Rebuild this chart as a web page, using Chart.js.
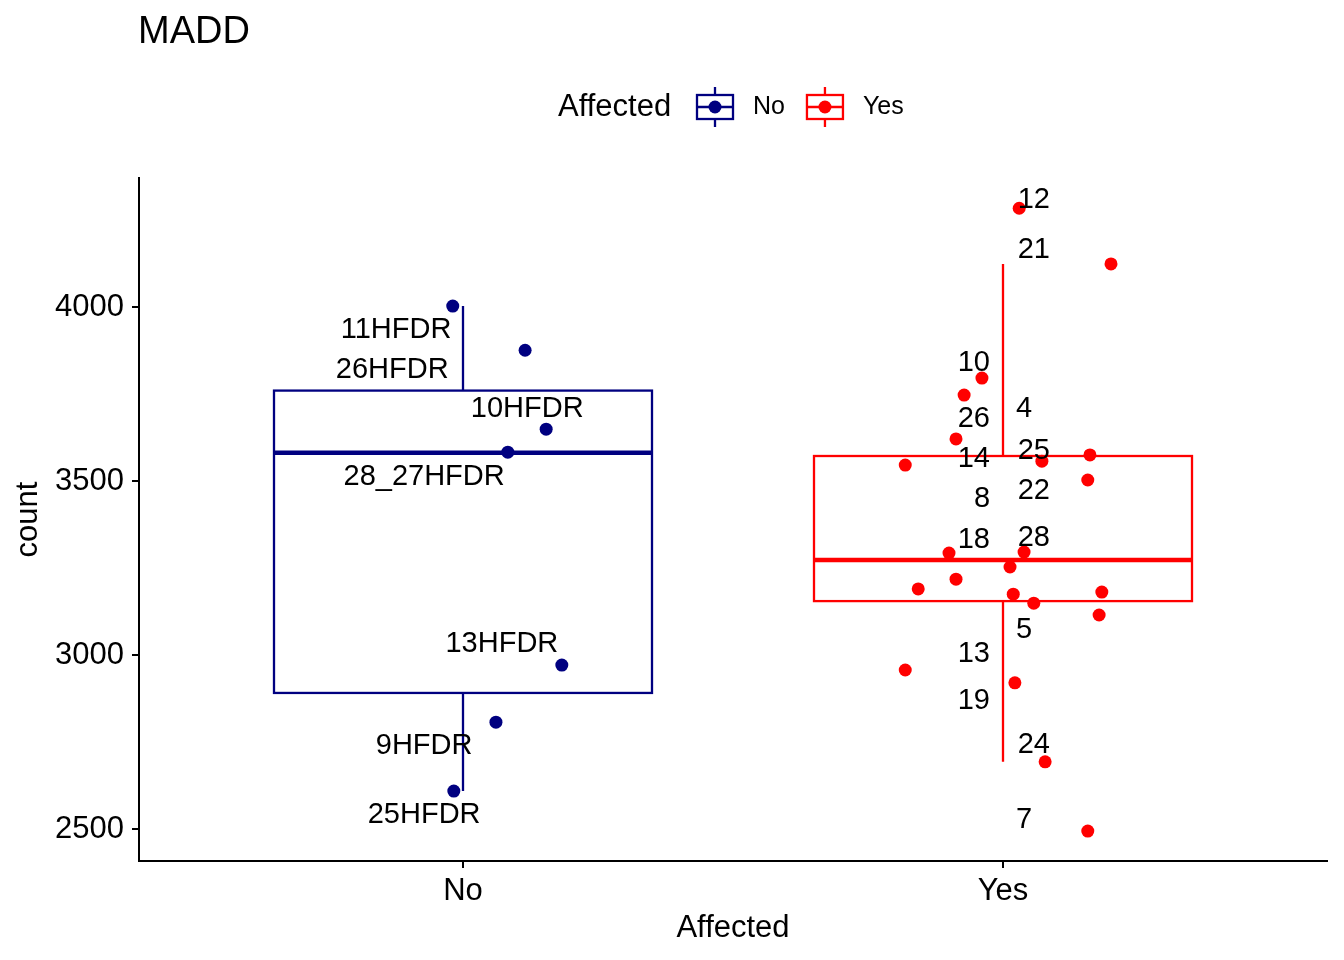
<!DOCTYPE html>
<html>
<head>
<meta charset="utf-8">
<script src="https://cdn.jsdelivr.net/npm/chart.js@4.4.0/dist/chart.umd.min.js"></script>
<style>
  body { margin: 0; background: #fff; }
  canvas { display: block; }
</style>
</head>
<body>
<canvas id="chart" width="1344" height="960"></canvas>
<script>
const groups = ['No', 'Yes'];
const groupColors = ['#000080', '#FF0000'];
const yTicks = [2500, 3000, 3500, 4000];

// jittered points
const noX = [0.981, 1.115, 1.154, 1.083, 1.183, 1.061, 0.983];
const noY = [4003, 3876, 3649, 3583, 2971, 2807, 2609];
const yesX = [2.030, 2.200, 1.961, 1.928, 1.913, 1.819, 2.072, 2.161, 2.157, 1.900, 2.039,
  2.013, 1.913, 1.843, 2.019, 2.183, 2.057, 2.178, 1.819, 2.022, 2.078, 2.157];
const yesY = [4284, 4124, 3796, 3747, 3621, 3546, 3557, 3575, 3503, 3293, 3296,
  3253, 3218, 3190, 3175, 3181, 3149, 3115, 2957, 2920, 2693, 2494];

// box stats: lower whisker, q1, median, q3, upper whisker
const noBox = [2609, 2891, 3581, 3760, 4003];
const yesBox = [2693, 3155, 3273, 3572, 4124];

// sample labels
const noLabels = ['11HFDR', '26HFDR', '10HFDR', '28_27HFDR', '13HFDR', '9HFDR', '25HFDR'];
const noLabelX = [0.876, 0.869, 1.119, 0.928, 1.072, 0.928, 0.928];
const noLabelY = [3934, 3819, 3707, 3511, 3032, 2739, 2540];
const yesLabels = ['12', '21', '10', '4', '26', '14', '25', '22', '8', '18', '28', '5', '13', '19', '24', '7'];
const yesLabelX = [2.057, 2.057, 1.946, 2.039, 1.946, 1.946, 2.057, 2.057, 1.961, 1.946, 2.057, 2.039, 1.946, 1.946, 2.057, 2.039];
const yesLabelY = [4307, 4164, 3839, 3707, 3678, 3563, 3586, 3471, 3448, 3330, 3336, 3072, 3003, 2868, 2741, 2526];

const FONT = '"Liberation Sans", Arial, Helvetica, sans-serif';
const boxes = [noBox, yesBox];
const labelSets = [
  { text: noLabels, x: noLabelX, y: noLabelY },
  { text: yesLabels, x: yesLabelX, y: yesLabelY }
];

const boxPlugin = {
  id: 'boxes',
  beforeDatasetsDraw(chart) {
    const { ctx, scales: { x, y } } = chart;
    ctx.save();
    boxes.forEach((b, i) => {
      const cx = x.getPixelForValue(i + 1);
      const l = x.getPixelForValue(i + 1 - 0.35);
      const r = x.getPixelForValue(i + 1 + 0.35);
      const [lo, q1, med, q3, hi] = b.map(v => y.getPixelForValue(v));
      ctx.strokeStyle = groupColors[i];
      ctx.lineWidth = 2.3;
      ctx.beginPath();
      ctx.moveTo(cx, hi); ctx.lineTo(cx, q3);
      ctx.moveTo(cx, q1); ctx.lineTo(cx, lo);
      ctx.stroke();
      ctx.fillStyle = '#fff';
      ctx.fillRect(l, q3, r - l, q1 - q3);
      ctx.strokeRect(l, q3, r - l, q1 - q3);
      ctx.lineWidth = 4.5;
      ctx.beginPath();
      ctx.moveTo(l, med); ctx.lineTo(r, med);
      ctx.stroke();
    });
    ctx.restore();
  },
  afterDatasetsDraw(chart) {
    const { ctx, scales: { x, y } } = chart;
    ctx.save();
    ctx.font = '29px ' + FONT;
    ctx.fillStyle = '#000';
    ctx.textAlign = 'center';
    ctx.textBaseline = 'middle';
    labelSets.forEach(set => {
      set.text.forEach((t, k) => {
        ctx.fillText(t, x.getPixelForValue(set.x[k]), y.getPixelForValue(set.y[k]));
      });
    });
    ctx.restore();
  },
  afterDraw(chart) {
    const { ctx } = chart;
    ctx.save();
    ctx.fillStyle = '#000';
    ctx.textBaseline = 'middle';
    ctx.textAlign = 'left';
    ctx.font = '38px ' + FONT;
    ctx.fillText('MADD', 138, 33);

    // legend
    const ly = 107;
    ctx.font = '31px ' + FONT;
    ctx.fillText('Affected', 558, ly);
    let kx = 697;
    ctx.font = '25px ' + FONT;
    groups.forEach((g, i) => {
      const c = groupColors[i];
      ctx.strokeStyle = c;
      ctx.fillStyle = c;
      ctx.lineWidth = 2.3;
      ctx.strokeRect(kx, ly - 12, 36, 24);
      ctx.beginPath();
      ctx.moveTo(kx, ly); ctx.lineTo(kx + 36, ly);
      ctx.moveTo(kx + 18, ly - 12); ctx.lineTo(kx + 18, ly - 20);
      ctx.moveTo(kx + 18, ly + 12); ctx.lineTo(kx + 18, ly + 20);
      ctx.stroke();
      ctx.beginPath();
      ctx.arc(kx + 18, ly, 6.5, 0, Math.PI * 2);
      ctx.fill();
      ctx.fillStyle = '#000';
      ctx.fillText(g, kx + 56, ly);
      kx += 56 + ctx.measureText(g).width + 22;
    });
    ctx.restore();
  }
};

const toPoints = (xs, ys) => xs.map((v, i) => ({ x: v, y: ys[i] }));

new Chart(document.getElementById('chart'), {
  type: 'scatter',
  data: {
    datasets: [
      { label: 'No', data: toPoints(noX, noY), backgroundColor: groupColors[0], borderWidth: 0, pointRadius: 6.5 },
      { label: 'Yes', data: toPoints(yesX, yesY), backgroundColor: groupColors[1], borderWidth: 0, pointRadius: 6.5 }
    ]
  },
  options: {
    responsive: false,
    animation: false,
    layout: { padding: { left: 0, top: 178, right: 17, bottom: 0 } },
    plugins: {
      legend: { display: false },
      tooltip: { enabled: false }
    },
    scales: {
      x: {
        type: 'linear',
        min: 0.4,
        max: 2.6,
        afterBuildTicks: s => { s.ticks = groups.map((g, i) => ({ value: i + 1 })); },
        afterFit: s => { s.height = 99; },
        ticks: {
          callback: v => groups[v - 1],
          color: '#000',
          font: { size: 31, family: FONT },
          padding: 5,
          maxRotation: 0
        },
        grid: { drawOnChartArea: false, color: '#000', lineWidth: 2, tickLength: 7 },
        border: { color: '#000', width: 2 },
        title: { display: true, text: 'Affected', color: '#000', font: { size: 31, family: FONT }, padding: { top: 0, bottom: 13 } }
      },
      y: {
        min: 2408,
        max: 4371,
        afterBuildTicks: s => { s.ticks = yTicks.map(v => ({ value: v })); },
        afterFit: s => { s.width = 139; },
        ticks: {
          callback: v => String(v),
          color: '#000',
          font: { size: 31, family: FONT },
          padding: 8
        },
        grid: { drawOnChartArea: false, color: '#000', lineWidth: 2, tickLength: 7 },
        border: { color: '#000', width: 2 },
        title: { display: true, text: 'count', color: '#000', font: { size: 31, family: FONT }, padding: { top: 10, bottom: 0 } }
      }
    }
  },
  plugins: [boxPlugin]
});
</script>
</body>
</html>
